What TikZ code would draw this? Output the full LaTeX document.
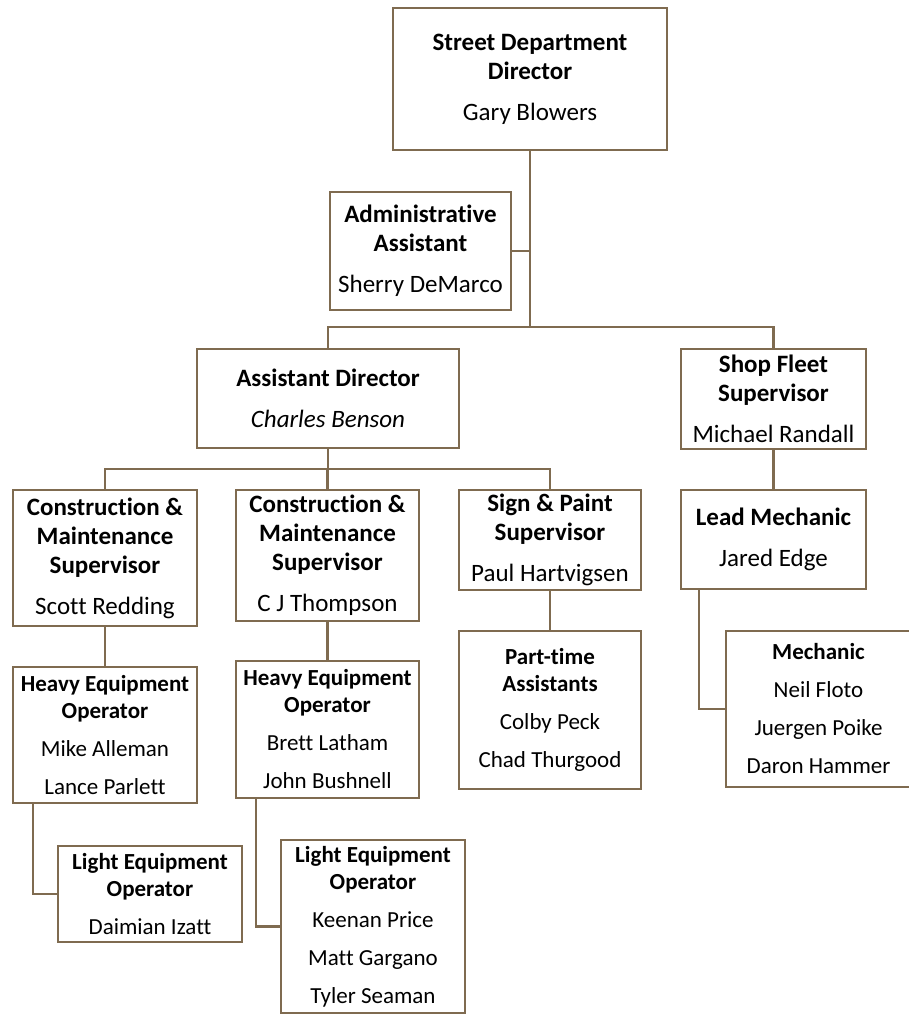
\documentclass[tikz,border=0pt]{standalone}
\usepackage{fontspec}
\setmainfont{Carlito}[Ligatures=NoCommon]
\begin{document}
\begin{tikzpicture}[x=0.75pt,y=-0.75pt,
  brn/.style={draw={rgb,255:red,127;green,107;blue,80}},
  box/.style={brn,line width=2.2pt,fill=white,align=center,inner sep=0pt,outer sep=0pt},
  big/.style={box,font=\fontsize{18.75pt}{21.75pt}\selectfont},
  sml/.style={box,font=\fontsize{17.25pt}{20.25pt}\selectfont},
  link/.style={brn,line width=2.2pt}]
\useasboundingbox (0,0) rectangle (909,1014);
\clip (0,0) rectangle (909,1014);

% top levels
\node[big,minimum width=205.5pt,minimum height=106.5pt] (dir) at (530,79)
  {\textbf{Street Department}\\\textbf{Director}\\[9pt]Gary Blowers};
\node[big,minimum width=135.75pt,minimum height=88.5pt] (admin) at (420.5,251)
  {\textbf{Administrative}\\\textbf{Assistant}\\[9pt]Sherry DeMarco};
\node[big,minimum width=196.5pt,minimum height=74.25pt] (asst) at (328,398.5)
  {\textbf{Assistant Director}\\[9pt]\textit{Charles Benson}};
\node[big,minimum width=138.75pt,minimum height=75pt] (shop) at (773.5,399)
  {\textbf{Shop Fleet}\\\textbf{Supervisor}\\[9pt]Michael Randall};

% supervisors
\node[big,minimum width=138pt,minimum height=102pt] (scott) at (105,558)
  {\textbf{Construction \&}\\\textbf{Maintenance}\\\textbf{Supervisor}\\[9pt]Scott Redding};
\node[big,minimum width=137.25pt,minimum height=98.25pt] (cj) at (327.5,555.5)
  {\textbf{Construction \&}\\\textbf{Maintenance}\\\textbf{Supervisor}\\[9pt]C J Thompson};
\node[big,minimum width=136.5pt,minimum height=75pt] (sign) at (550,540)
  {\textbf{Sign \& Paint}\\\textbf{Supervisor}\\[9pt]Paul Hartvigsen};
\node[big,minimum width=138.75pt,minimum height=74.25pt] (lead) at (773.5,539.5)
  {\textbf{Lead Mechanic}\\[9pt]Jared Edge};

% crews
\node[sml,minimum width=138pt,minimum height=102pt] (heo1) at (105,735)
  {\textbf{Heavy Equipment}\\\textbf{Operator}\\[8.25pt]Mike Alleman\\[8.25pt]Lance Parlett};
\node[sml,minimum width=137.25pt,minimum height=102.75pt] (heo2) at (327.5,729.5)
  {\textbf{Heavy Equipment}\\\textbf{Operator}\\[8.25pt]Brett Latham\\[8.25pt]John Bushnell};
\node[sml,minimum width=136.5pt,minimum height=118.5pt] (part) at (550,710)
  {\textbf{Part-time}\\\textbf{Assistants}\\[8.25pt]Colby Peck\\[8.25pt]Chad Thurgood};
\node[sml,minimum width=138.75pt,minimum height=117pt] (mech) at (818.5,709)
  {\textbf{Mechanic}\\[8.25pt]Neil Floto\\[8.25pt]Juergen Poike\\[8.25pt]Daron Hammer};
\node[sml,minimum width=138pt,minimum height=72pt] (leo1) at (150,894)
  {\textbf{Light Equipment}\\\textbf{Operator}\\[8.25pt]Daimian Izatt};
\node[sml,minimum width=138pt,minimum height=129.75pt] (leo2) at (373,926.5)
  {\textbf{Light Equipment}\\\textbf{Operator}\\[8.25pt]Keenan Price\\[8.25pt]Matt Gargano\\[8.25pt]Tyler Seaman};

% connectors
\coordinate (j1) at (530,327);
\coordinate (j2) at (328,469);
\draw[link] (dir.south) -- (j1);
\draw[link] (admin.east) -- (admin.east -| dir.south);
\draw[link] (asst.north) |- (j1) -| (shop.north);
\draw[link] (asst.south) -- (j2);
\draw[link] (scott.north) |- (j2) -| (sign.north);
\draw[link] (cj.north) -- (cj.north |- j2);
\draw[link] (shop.south) -- (lead.north);
\draw[link] (scott.south) -- (heo1.north);
\draw[link] (cj.south) -- (heo2.north);
\draw[link] (sign.south) -- (part.north);
\draw[link] ([xshift=13.5pt]lead.south west) |- (mech.west);
\draw[link] ([xshift=15pt]heo1.south west) |- (leo1.west);
\draw[link] ([xshift=15pt]heo2.south west) |- (leo2.west);
\end{tikzpicture}
\end{document}
